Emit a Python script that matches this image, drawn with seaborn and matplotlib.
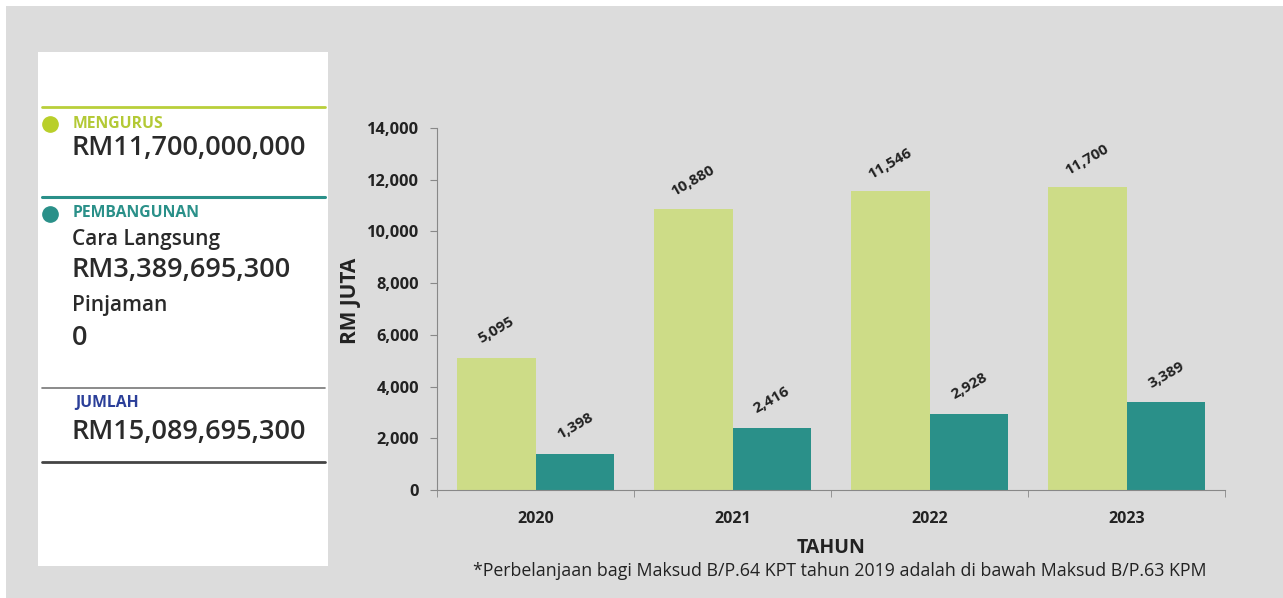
import pandas as pd
import matplotlib.pyplot as plt
import seaborn as sns
from matplotlib.patches import Rectangle
from matplotlib.lines import Line2D

# data (RM juta)
years = ['2020', '2021', '2022', '2023']
mengurus = [5095, 10880, 11546, 11700]
pembangunan = [1398, 2416, 2928, 3389]
series_names = ['Mengurus', 'Pembangunan']

# summary panel text
summary_mengurus = 'RM11,700,000,000'
summary_langsung = 'RM3,389,695,300'
summary_pinjaman = '0'
summary_jumlah = 'RM15,089,695,300'

GREEN = '#cddc87'
TEAL = '#2a9089'
DARK = '#222222'

df = pd.DataFrame({
    'tahun': years * 2,
    'nilai': mengurus + pembangunan,
    'jenis': [series_names[0]] * len(years) + [series_names[1]] * len(years),
})

sns.set_style('white')
plt.rcParams['font.family'] = ['Open Sans', 'DejaVu Sans']

W, H = 1283, 598
fig = plt.figure(figsize=(W / 100, H / 100), dpi=100)
fig.patch.set_facecolor('white')


# pixel coords -> figure fraction
def fx(x):
    return x / W


def fy(y):
    return 1 - y / H


fig.add_artist(Rectangle((fx(6), 0), 1 - fx(6), fy(6), transform=fig.transFigure,
                         facecolor='#dcdcdc', edgecolor='none', zorder=-3))
fig.add_artist(Rectangle((fx(38), fy(566)), fx(328) - fx(38), fy(52) - fy(566),
                         transform=fig.transFigure, facecolor='white',
                         edgecolor='none', zorder=-2))

# left summary panel
for y, c, lw in [(107, '#b9cf3a', 2), (197, TEAL, 2.2), (388, '#777777', 1.2), (462, '#444444', 2)]:
    fig.add_artist(Line2D([fx(42), fx(325)], [fy(y), fy(y)], color=c, lw=lw,
                          transform=fig.transFigure, zorder=2))
for y, c in [(124, '#b9cf2a'), (214, TEAL)]:
    fig.add_artist(Line2D([fx(50)], [fy(y)], marker='o', markersize=11, color=c,
                          linestyle='none', transform=fig.transFigure, zorder=2))

TXT = '#2a2a2a'
fig.text(fx(73), fy(124), 'MENGURUS', color='#b3c935', fontsize=11.3, fontweight='bold', va='center')
fig.text(fx(72), fy(148), summary_mengurus, color=TXT, fontsize=19.5, fontweight='semibold', va='center')
fig.text(fx(73), fy(213), 'PEMBANGUNAN', color=TEAL, fontsize=11.3, fontweight='bold', va='center')
fig.text(fx(72), fy(240), 'Cara Langsung', color=TXT, fontsize=15, fontweight='semibold', va='center')
fig.text(fx(72), fy(270), summary_langsung, color=TXT, fontsize=19.5, fontweight='semibold', va='center')
fig.text(fx(72), fy(306), 'Pinjaman', color=TXT, fontsize=15, fontweight='semibold', va='center')
fig.text(fx(72), fy(338), summary_pinjaman, color=TXT, fontsize=19.5, fontweight='semibold', va='center')
fig.text(fx(75), fy(403), 'JUMLAH', color='#2b3f99', fontsize=11.3, fontweight='bold', va='center')
fig.text(fx(72), fy(432), summary_jumlah, color=TXT, fontsize=19.5, fontweight='semibold', va='center')

# bar chart
ax = fig.add_axes([fx(437), fy(490), fx(1225) - fx(437), fy(128) - fy(490)])
ax.set_facecolor('none')
sns.barplot(data=df, x='tahun', y='nilai', hue='jenis', palette=[GREEN, TEAL],
            width=0.8, saturation=1, legend=False, linewidth=0, ax=ax)
ax.set_xlim(-0.5, len(years) - 0.5)
ax.set_ylim(0, 14000)
ax.set_yticks(range(0, 14001, 2000))
ax.set_yticklabels([f'{v:,}' for v in range(0, 14001, 2000)])

for cont in ax.containers:
    for bar in cont:
        h = bar.get_height()
        ax.annotate(f'{int(h):,}', (bar.get_x() + bar.get_width() / 2, h),
                    xytext=(0, 20), textcoords='offset points', ha='center', va='center',
                    rotation=30, fontsize=11, fontweight='bold', color=DARK)

for s in ['top', 'right']:
    ax.spines[s].set_visible(False)
ax.spines['left'].set_color('#888888')
ax.spines['bottom'].set_color('#888888')

# x ticks at category boundaries, labels at centres
ax.set_xticks([i - 0.5 for i in range(len(years) + 1)], minor=True)
ax.set_xticks(range(len(years)))
ax.set_xticklabels(years)
ax.tick_params(axis='x', which='major', length=0, pad=15, labelsize=11.5, labelcolor=DARK)
ax.tick_params(axis='x', which='minor', length=5, color='#888888', direction='out', bottom=True)
ax.tick_params(axis='y', length=5, color='#888888', direction='out', labelsize=11.8,
               labelcolor=DARK, pad=8, left=True)
for lab in ax.get_xticklabels() + ax.get_yticklabels():
    lab.set_fontweight('bold')

ax.set_xlabel('TAHUN', fontsize=14, fontweight='bold', color=DARK, labelpad=8)
ax.set_ylabel('RM JUTA', fontsize=15, fontweight='bold', color=DARK)
ax.yaxis.set_label_coords(-0.097, 0.522)

fig.text(fx(840), fy(571), '*Perbelanjaan bagi Maksud B/P.64 KPT tahun 2019 adalah di bawah Maksud B/P.63 KPM',
         ha='center', va='center', fontsize=12.8, color=DARK)

fig.savefig('out.png', dpi=100)
